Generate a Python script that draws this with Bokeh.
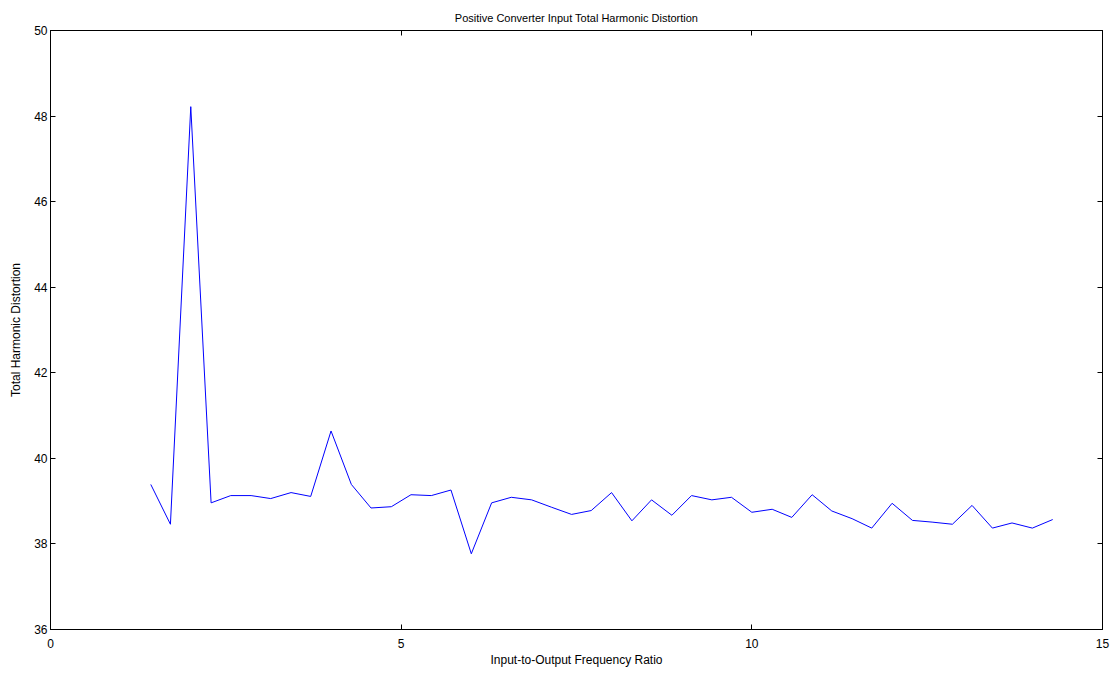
from bokeh.plotting import figure
from bokeh.models import LinearAxis, FixedTicker, Range1d
from bokeh.embed import file_html
from bokeh.resources import INLINE

ratio = [1.43, 1.71, 2.00, 2.29, 2.57, 2.86, 3.14, 3.43, 3.71, 4.00,
         4.29, 4.57, 4.86, 5.14, 5.43, 5.71, 6.00, 6.29, 6.57, 6.86,
         7.14, 7.43, 7.71, 8.00, 8.29, 8.57, 8.86, 9.14, 9.43, 9.71,
         10.00, 10.29, 10.57, 10.86, 11.14, 11.43, 11.71, 12.00, 12.29, 12.57,
         12.86, 13.14, 13.43, 13.71, 14.00, 14.29]
thd = [39.39, 38.46, 48.22, 38.96, 39.13, 39.13, 39.06, 39.20, 39.11, 40.64,
       39.39, 38.84, 38.87, 39.15, 39.13, 39.26, 37.77, 38.96, 39.09, 39.03,
       38.86, 38.69, 38.78, 39.20, 38.54, 39.03, 38.67, 39.13, 39.03, 39.09,
       38.74, 38.81, 38.62, 39.15, 38.77, 38.59, 38.37, 38.95, 38.55, 38.51,
       38.46, 38.90, 38.37, 38.49, 38.37, 38.57]
x_ticks = [0, 5, 10, 15]
y_ticks = [36, 38, 40, 42, 44, 46, 48, 50]

FONT = "Liberation Sans"

p = figure(frame_width=1052, frame_height=599, output_backend="svg",
           toolbar_location=None, x_range=Range1d(0, 15), y_range=Range1d(36, 50),
           min_border_left=50, min_border_right=8, min_border_top=30, min_border_bottom=40,
           title="Positive Converter Input Total Harmonic Distortion")
p.title.align = "center"
p.title.vertical_align = "top"
p.title.text_font = FONT
p.title.text_font_size = "11px"
p.title.text_font_style = "normal"
p.title.text_color = "black"
p.title.offset = 0
p.title.standoff = 10

p.line(ratio, thd, line_color="#0000ff", line_width=1)

p.xgrid.visible = False
p.ygrid.visible = False
p.outline_line_color = "black"
p.outline_line_width = 1
p.background_fill_color = "white"
p.border_fill_color = "white"

for ax, ticks in ((p.xaxis[0], x_ticks), (p.yaxis[0], y_ticks)):
    ax.ticker = FixedTicker(ticks=ticks)
    ax.major_tick_in = 5
    ax.major_tick_out = 0
    ax.minor_tick_line_color = None
    ax.axis_line_color = "black"
    ax.major_tick_line_color = "black"
    ax.major_label_text_font = FONT
    ax.major_label_text_font_size = "12px"
    ax.major_label_text_color = "black"
    ax.axis_label_text_font = FONT
    ax.axis_label_text_font_size = "12px"
    ax.axis_label_text_font_style = "normal"
    ax.axis_label_text_color = "black"

p.xaxis[0].major_label_standoff = 9
p.xaxis[0].axis_label_standoff = 2
p.yaxis[0].major_label_standoff = 3
p.yaxis[0].axis_label_standoff = 8
p.xaxis[0].axis_label = "Input-to-Output Frequency Ratio"
p.yaxis[0].axis_label = "Total Harmonic Distortion"

top = LinearAxis(ticker=FixedTicker(ticks=x_ticks), major_tick_in=5, major_tick_out=0,
                 minor_tick_line_color=None, major_label_overrides={t: "" for t in x_ticks})
right = LinearAxis(ticker=FixedTicker(ticks=y_ticks), major_tick_in=5, major_tick_out=0,
                   minor_tick_line_color=None, major_label_overrides={t: "" for t in y_ticks})
p.add_layout(top, "above")
p.add_layout(right, "right")

open("out.html", "w").write(file_html(p, INLINE))
